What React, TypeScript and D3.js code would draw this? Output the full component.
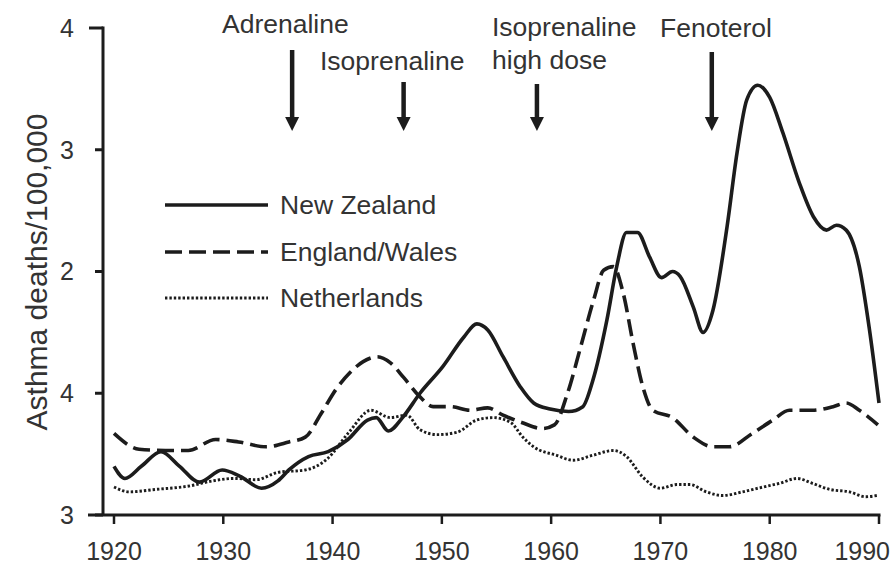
import React, { useEffect } from "react";
import * as d3 from "d3";

type P = [number, number];

const newZealand: P[] = [
  [1920, 0.4], [1921, 0.3], [1922.5, 0.4], [1924.3, 0.52], [1926, 0.4], [1927.8, 0.27],
  [1929.9, 0.37], [1931.5, 0.32], [1933.5, 0.22], [1935, 0.28], [1936, 0.37], [1937.8, 0.48],
  [1939.6, 0.52], [1941.4, 0.62], [1943.2, 0.78], [1944, 0.8], [1945.1, 0.69], [1946.4, 0.8],
  [1948, 1.0], [1950.1, 1.22], [1952, 1.46], [1953.2, 1.57], [1954.2, 1.52], [1955.6, 1.3],
  [1957.2, 1.05], [1958.4, 0.92], [1959.9, 0.87], [1961.6, 0.85], [1962.9, 0.89], [1963.8, 1.1],
  [1965.1, 1.6], [1966, 2.04], [1966.9, 2.32], [1967.9, 2.32], [1969, 2.12], [1970.1, 1.95],
  [1971.1, 2.0], [1971.8, 1.96], [1973, 1.71], [1973.9, 1.5], [1974.8, 1.68], [1976.1, 2.37],
  [1977, 2.97], [1977.9, 3.41], [1978.9, 3.53], [1980, 3.43], [1981.2, 3.14], [1982.7, 2.73],
  [1984, 2.45], [1985.2, 2.34], [1986.1, 2.38], [1987, 2.34], [1988.2, 2.04], [1989.1, 1.54],
  [1990, 0.92],
];

const englandWales: P[] = [
  [1920, 0.67], [1922.3, 0.54], [1924.7, 0.53], [1926.8, 0.53], [1929.3, 0.62], [1931.4, 0.6],
  [1933.9, 0.56], [1936, 0.6], [1937.5, 0.64], [1939, 0.84], [1940.3, 1.03], [1941.6, 1.17],
  [1942.8, 1.26], [1944.1, 1.3], [1945.3, 1.25], [1946.5, 1.13], [1948, 0.97], [1949.2, 0.89],
  [1950.8, 0.89], [1952.6, 0.86], [1954.2, 0.88], [1955.6, 0.82], [1957.3, 0.76], [1959.2, 0.71],
  [1960.3, 0.74], [1961.5, 1.0], [1962.7, 1.38], [1963.9, 1.77], [1964.8, 2.01], [1965.7, 2.04],
  [1966.6, 1.82], [1967.5, 1.41], [1968.4, 1.05], [1969.3, 0.86], [1971.1, 0.8], [1973, 0.64],
  [1974.8, 0.56], [1976.3, 0.56], [1978.4, 0.67], [1980.3, 0.78], [1981.8, 0.86], [1983.9, 0.86],
  [1985.8, 0.89], [1987, 0.92], [1988.2, 0.86], [1989.9, 0.74],
];

const netherlands: P[] = [
  [1920, 0.23], [1921.4, 0.19], [1923.8, 0.21], [1927, 0.24], [1929, 0.28], [1931, 0.3],
  [1933, 0.29], [1935, 0.35], [1937.5, 0.37], [1939.5, 0.46], [1941.5, 0.68], [1943.5, 0.86],
  [1945.3, 0.8], [1946.8, 0.82], [1948, 0.7], [1949.6, 0.66], [1951.4, 0.68], [1953.2, 0.78],
  [1954.7, 0.8], [1956.3, 0.76], [1957.4, 0.64], [1958.4, 0.56], [1960.5, 0.49], [1962, 0.45],
  [1963.8, 0.49], [1965.7, 0.53], [1966.9, 0.48], [1968.4, 0.31], [1970, 0.22], [1971.5, 0.25],
  [1972.7, 0.25], [1974.2, 0.19], [1975.7, 0.16], [1977.5, 0.19], [1979.4, 0.23], [1980.9, 0.26],
  [1982.5, 0.3], [1983.9, 0.26], [1985.5, 0.21], [1987.3, 0.19], [1988.8, 0.15], [1989.8, 0.16],
];

const xTicks = [1920, 1930, 1940, 1950, 1960, 1970, 1980, 1990];
const yTickValues = [4, 3, 2, 1, 0];
const yTickLabels = ["4", "3", "2", "4", "3"];

const seriesNames = ["New Zealand", "England/Wales", "Netherlands"];

const drugNames = [["Adrenaline"], ["Isoprenaline"], ["Isoprenaline", "high dose"], ["Fenoterol"]];
const drugYears = [1936.3, 1946.5, 1958.7, 1974.7];

const W = 892;
const H = 565;
const FONT = "'Liberation Sans', Arial, Helvetica, sans-serif";
const INK = "#1c1c1c";
const TEXT = "#333";

export default function App() {
  useEffect(() => {
    document.body.style.margin = "0";
  }, []);

  const x = d3.scaleLinear().domain([1920, 1990]).range([114, 879]);
  const y = d3.scaleLinear().domain([0, 4]).range([515, 28]);
  const line = d3
    .line<P>()
    .x((d) => x(d[0]))
    .y((d) => y(d[1]))
    .curve(d3.curveMonotoneX);

  const styles = [
    { dash: "none", width: 3.6 },
    { dash: "17 7", width: 3.6 },
    { dash: "2.4 2", width: 2.9 },
  ];
  const data = [newZealand, englandWales, netherlands];

  const legendY = [205, 252, 298];
  const textPos = [
    { x: 222, y: 33 },
    { x: 320, y: 70 },
    { x: 492, y: 36 },
    { x: 660, y: 37 },
  ];
  const arrowTop = [50, 82, 84, 52];
  const arrowTip = 131;

  return (
    <svg width={W} height={H} style={{ display: "block", background: "#fff" }} fontFamily={FONT}>
      {/* y axis */}
      <line x1={x(1920) - 11} x2={x(1920) - 11} y1={y(4) - 1.5} y2={y(0)} stroke={INK} strokeWidth={3} />
      {yTickValues.map((v, i) => (
        <g key={v}>
          <line x1={x(1920) - 11 - (i === 0 ? 14 : 8)} x2={x(1920) - 11} y1={y(v)} y2={y(v)} stroke={INK} strokeWidth={3} />
          <text x={74} y={y(v)} dy="0.35em" textAnchor="end" fontSize={25} fill={TEXT}>
            {yTickLabels[i]}
          </text>
        </g>
      ))}
      {/* x axis */}
      <line x1={88} x2={x(1990) + 1.5} y1={y(0)} y2={y(0)} stroke={INK} strokeWidth={3.2} />
      {xTicks.map((t, i) => (
        <g key={t}>
          <line x1={x(t)} x2={x(t)} y1={y(0)} y2={y(0) + 9} stroke={INK} strokeWidth={2.5} />
          <text
            x={i === xTicks.length - 1 ? 890 : x(t)}
            y={560}
            textAnchor={i === xTicks.length - 1 ? "end" : "middle"}
            fontSize={25}
            fill={TEXT}
          >
            {t}
          </text>
        </g>
      ))}
      <text
        transform={`translate(47,272) rotate(-90)`}
        textAnchor="middle"
        fontSize={30}
        fill={TEXT}
      >
        Asthma deaths/100,000
      </text>

      {/* series */}
      {data.map((d, i) => (
        <path
          key={i}
          d={line(d) || ""}
          fill="none"
          stroke={INK}
          strokeWidth={styles[i].width}
          strokeDasharray={styles[i].dash}
          strokeLinejoin="round"
        />
      ))}

      {/* legend */}
      {seriesNames.map((n, i) => (
        <g key={n}>
          <line x1={165} x2={268} y1={legendY[i]} y2={legendY[i]} stroke={INK}
            strokeWidth={styles[i].width} strokeDasharray={styles[i].dash} />
          <text x={280} y={legendY[i]} dy="0.35em" fontSize={26.5} fill={TEXT}>
            {n}
          </text>
        </g>
      ))}

      {/* annotations */}
      {drugNames.map((lines, i) => {
        const ax = x(drugYears[i]);
        return (
          <g key={i}>
            {lines.map((l, j) => (
              <text key={j} x={textPos[i].x} y={textPos[i].y + j * 33} fontSize={26.5} fill={TEXT}>
                {l}
              </text>
            ))}
            <line x1={ax} x2={ax} y1={arrowTop[i]} y2={arrowTip - 10} stroke={INK} strokeWidth={4.5} />
            <path
              d={`M${ax - 7},${arrowTip - 14} L${ax + 7},${arrowTip - 14} L${ax},${arrowTip} Z`}
              fill={INK}
            />
          </g>
        );
      })}
    </svg>
  );
}
